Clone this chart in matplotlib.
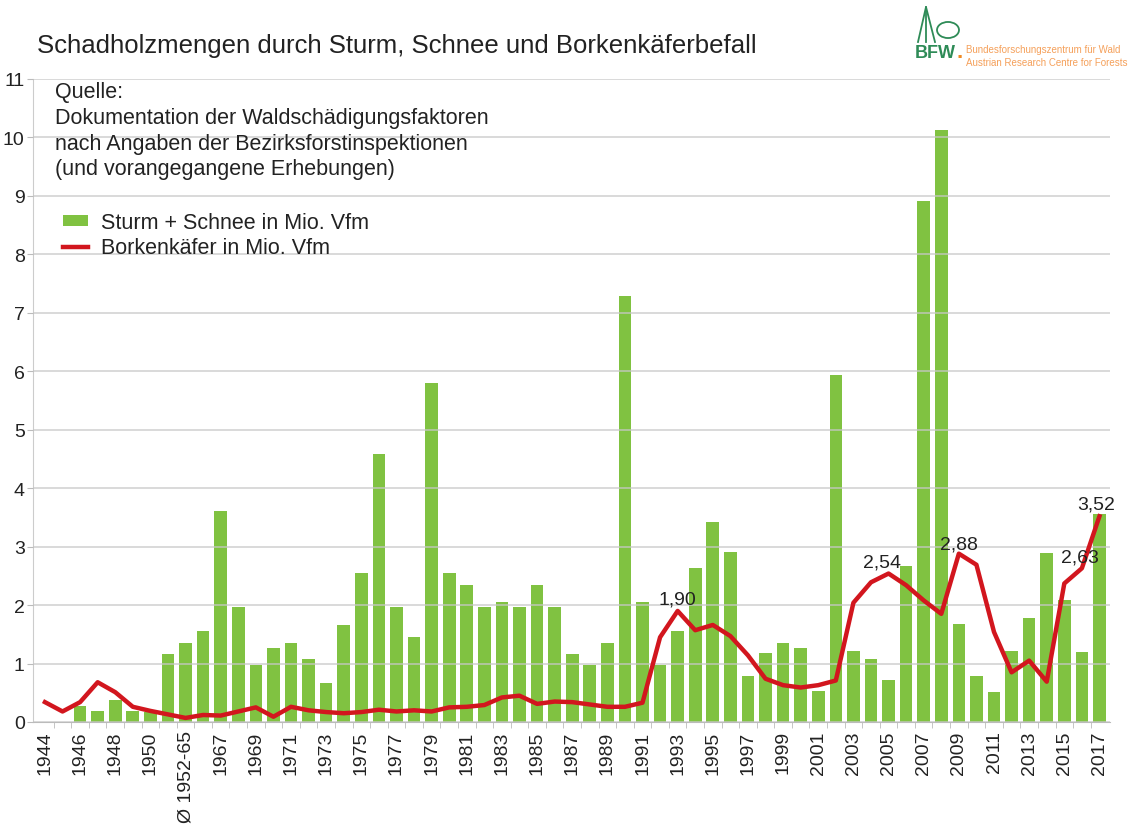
import numpy as np
import matplotlib
matplotlib.use("Agg")
import matplotlib.pyplot as plt
from matplotlib.lines import Line2D
from matplotlib.patches import Circle

plt.rcParams['font.family'] = ['Liberation Sans', 'DejaVu Sans']

# Kategorien
jahre = ['1944', '1945', '1946', '1947', '1948', '1949', '1950', '1951', 'Ø 1952-65'] + \
        [str(j) for j in range(1966, 2018)]

# Sturm + Schnee in Mio. Vfm
sturm_schnee = [0.0, 0.0, 0.28, 0.19, 0.37, 0.19, 0.17, 1.17, 1.35,
                1.55, 3.61, 1.97, 0.98, 1.27, 1.35, 1.08, 0.67, 1.66, 2.55,
                4.59, 1.97, 1.46, 5.80, 2.55, 2.35, 1.97, 2.05, 1.97, 2.35,
                1.97, 1.17, 0.98, 1.35, 7.29, 2.05, 0.98, 1.55, 2.64, 3.42,
                2.90, 0.78, 1.18, 1.36, 1.27, 0.53, 5.94, 1.21, 1.07, 0.71,
                2.67, 8.91, 10.12, 1.67, 0.79, 0.51, 1.22, 1.78, 2.89, 2.09,
                1.19, 3.55]

# Borkenkäfer in Mio. Vfm
borkenkaefer = [0.34, 0.18, 0.34, 0.68, 0.51, 0.26, 0.19, 0.13, 0.07,
                0.12, 0.11, 0.18, 0.25, 0.09, 0.26, 0.20, 0.17, 0.15, 0.17,
                0.21, 0.18, 0.20, 0.18, 0.25, 0.26, 0.29, 0.42, 0.45, 0.31,
                0.35, 0.34, 0.30, 0.26, 0.26, 0.33, 1.45, 1.90, 1.57, 1.66,
                1.47, 1.14, 0.74, 0.63, 0.59, 0.63, 0.71, 2.04, 2.39, 2.54,
                2.34, 2.08, 1.85, 2.88, 2.69, 1.54, 0.85, 1.05, 0.69, 2.37,
                2.63, 3.52]

# beschriftete Werte: (Kategorie, Text, Textposition y)
beschriftung = [('1993', '1,90', 2.10), ('2005', '2,54', 2.74), ('2009', '2,88', 3.05),
                ('2016', '2,63', 2.82), ('2017', '3,52', 3.73)]

gruen = '#80c241'
rot = '#d2161e'

fig = plt.figure(figsize=(11.35, 8.29), dpi=100)
ax = fig.add_axes([33 / 1135, 1 - 723 / 829, (1110 - 33) / 1135, (723 - 80) / 829])

x = np.arange(len(jahre))
balken = ax.bar(x, sturm_schnee, width=0.72, color=gruen, zorder=1,
                label='Sturm + Schnee in Mio. Vfm')
linie, = ax.plot(x, borkenkaefer, color=rot, lw=3.2, zorder=4, solid_joinstyle='round',
                 label='Borkenkäfer in Mio. Vfm')

for jahr, txt, ypos in beschriftung:
    i = jahre.index(jahr)
    dx = {'2005': -0.35, '2016': -0.1, '2017': -0.2}.get(jahr, 0)
    ax.text(i + dx, ypos, txt, ha='center', va='center', fontsize=14, color='#222222', zorder=5)

ax.set_xlim(-0.68, 60.6)
ax.set_ylim(0, 11)
ax.set_yticks(range(0, 12))
ax.set_xticks(x[::2])
ax.set_xticklabels(jahre[::2], rotation=90, fontsize=14, color='#222222')
ax.set_xticks(x[:-1] + 0.5, minor=True)
ax.tick_params(axis='y', labelsize=14, colors='#222222', length=4, color='#bbbbbb', pad=2)
ax.tick_params(axis='x', which='major', length=0, pad=6)
ax.tick_params(axis='x', which='minor', length=4, color='#bbbbbb')

ax.set_axisbelow(False)
ax.yaxis.grid(True, color='#c8c8c8', lw=1.2, alpha=0.8)
for s in ['top', 'right']:
    ax.spines[s].set_visible(False)
ax.spines['left'].set_color('#cccccc')
ax.spines['bottom'].set_color('#bbbbbb')

fig.text(37 / 1135, 1 - 46 / 829, 'Schadholzmengen durch Sturm, Schnee und Borkenkäferbefall',
         fontsize=18.5, color='#222222', va='center')

ax.text(0.02, 0.997, 'Quelle:\nDokumentation der Waldschädigungsfaktoren\n'
        'nach Angaben der Bezirksforstinspektionen\n(und vorangegangene Erhebungen)',
        transform=ax.transAxes, fontsize=15.5, va='top', ha='left', color='#222222',
        linespacing=1.3)

leg = ax.legend([balken, linie], ['Sturm + Schnee in Mio. Vfm', 'Borkenkäfer in Mio. Vfm'],
                loc='upper left', bbox_to_anchor=(0.01, 0.823), frameon=False,
                fontsize=15.5, handlelength=1.15, handleheight=0.45, labelspacing=0.2,
                handletextpad=0.6)
for t in leg.get_texts():
    t.set_color('#222222')

# Logo BFW
logo = '#2e8b57'
fig.text(915 / 1135, 1 - 53 / 829, 'BFW', fontsize=13, fontweight='bold',
         color=logo, va='center')
fig.text(957 / 1135, 1 - 53 / 829, '.', fontsize=16, fontweight='bold',
         color='#f08a24', va='center')
fig.text(966 / 1135, 1 - 50 / 829, 'Bundesforschungszentrum für Wald',
         fontsize=7, color='#f5a05a', va='center')
fig.text(966 / 1135, 1 - 63 / 829, 'Austrian Research Centre for Forests',
         fontsize=7, color='#f5a05a', va='center')
fig.add_artist(Line2D([918 / 1135, 926 / 1135, 935 / 1135], [1 - 43 / 829, 1 - 8 / 829, 1 - 43 / 829],
                      color=logo, lw=1.3))
fig.add_artist(Line2D([926 / 1135, 926 / 1135], [1 - 8 / 829, 1 - 43 / 829], color=logo, lw=1.3))
fig.add_artist(Circle((948 / 1135, 1 - 31 / 829), 11 / 1135, transform=fig.transFigure,
                      fill=False, color=logo, lw=1.3))

fig.savefig('out.png', dpi=100)
